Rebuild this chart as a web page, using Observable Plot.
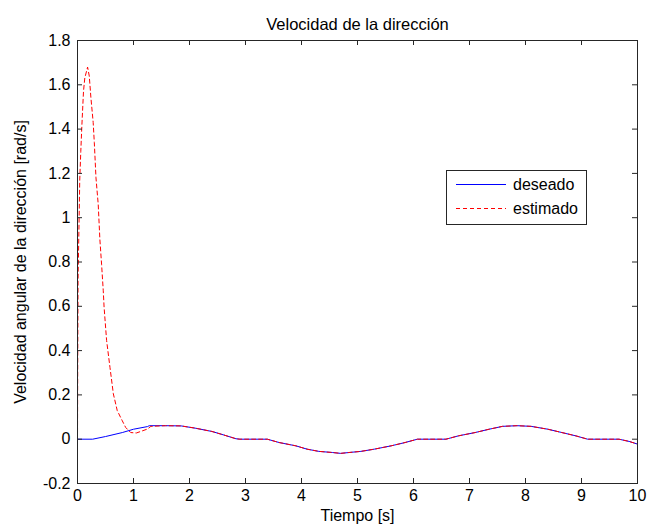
<!DOCTYPE html>
<html>
<head>
<meta charset="utf-8">
<script src="https://cdn.jsdelivr.net/npm/d3@7"></script>
<script src="https://cdn.jsdelivr.net/npm/@observablehq/plot@0.6"></script>
<style>
  body { margin: 0; background: #fff; }
  #wrap { position: relative; width: 647px; height: 530px; font-family: "Liberation Sans", Arial, sans-serif; }
  #legend { position: absolute; left: 446px; top: 170px; }
</style>
</head>
<body>
<div id="wrap"></div>
<script>
// Desired ("deseado") angular velocity samples
const tDes = [0, 0.27, 0.5, 0.8, 1.0, 1.25, 1.28, 1.57, 1.85, 2.1, 2.4, 2.6, 2.83, 2.9, 3.39, 3.6, 3.9, 4.1, 4.31, 4.55, 4.7, 4.85, 5.06, 5.3, 5.6, 5.85, 6.07, 6.58, 6.8, 7.1, 7.35, 7.59, 7.85, 8.1, 8.4, 8.65, 8.9, 9.11, 9.67, 9.85, 10];
const vDes = [0, 0, 0.012, 0.03, 0.045, 0.057, 0.061, 0.061, 0.06, 0.05, 0.035, 0.02, 0.002, 0, 0, -0.015, -0.03, -0.045, -0.055, -0.06, -0.064, -0.06, -0.055, -0.045, -0.03, -0.015, 0, 0, 0.015, 0.03, 0.045, 0.058, 0.061, 0.058, 0.045, 0.03, 0.015, 0, 0, -0.01, -0.022];
// Estimated ("estimado") angular velocity samples
const tEst = [0, 0.004, 0.01, 0.029, 0.04, 0.059, 0.077, 0.107, 0.13, 0.18, 0.21, 0.24, 0.28, 0.30, 0.33, 0.37, 0.40, 0.43, 0.46, 0.475, 0.52, 0.58, 0.64, 0.71, 0.80, 0.86, 0.95, 1.05, 1.13, 1.25, 1.31, 1.57, 1.85, 2.1, 2.4, 2.6, 2.83, 2.9, 3.39, 3.6, 3.9, 4.1, 4.31, 4.55, 4.7, 4.85, 5.06, 5.3, 5.6, 5.85, 6.07, 6.58, 6.8, 7.1, 7.35, 7.59, 7.85, 8.1, 8.4, 8.65, 8.9, 9.11, 9.67, 9.85, 10];
const vEst = [0, 0.35, 0.72, 1.0, 1.17, 1.30, 1.41, 1.57, 1.63, 1.68, 1.64, 1.54, 1.43, 1.34, 1.18, 1.06, 0.90, 0.79, 0.67, 0.595, 0.445, 0.324, 0.205, 0.129, 0.083, 0.053, 0.03, 0.028, 0.035, 0.046, 0.058, 0.061, 0.06, 0.05, 0.035, 0.02, 0.002, 0, 0, -0.015, -0.03, -0.045, -0.055, -0.06, -0.064, -0.06, -0.055, -0.045, -0.03, -0.015, 0, 0, 0.015, 0.03, 0.045, 0.058, 0.061, 0.058, 0.045, 0.03, 0.015, 0, 0, -0.01, -0.022];
const xTicks = [0, 1, 2, 3, 4, 5, 6, 7, 8, 9, 10];
const yTicks = [-0.2, 0, 0.2, 0.4, 0.6, 0.8, 1, 1.2, 1.4, 1.6, 1.8];
const seriesNames = ["deseado", "estimado"];
const titleText = "Velocidad de la dirección";
const xLabel = "Tiempo [s]";
const yLabel = "Velocidad angular de la dirección [rad/s]";

const des = tDes.map((t, i) => ({t, v: vDes[i]}));
const est = tEst.map((t, i) => ({t, v: vEst[i]}));

const W = 647, H = 530, mL = 77, mR = 10, mT = 40, mB = 47;
const innerW = W - mL - mR, innerH = H - mT - mB;
const tick = 5;
const axisColor = "#262626";
const fmt = d => String(+d.toFixed(1));

const chart = Plot.plot({
  width: W, height: H,
  marginLeft: mL, marginRight: mR, marginTop: mT, marginBottom: mB,
  style: {fontFamily: "'Liberation Sans', Arial, sans-serif", fontSize: "16px", color: "black", background: "white"},
  x: {domain: [0, 10], ticks: xTicks},
  y: {domain: [-0.2, 1.8], ticks: yTicks},
  marks: [
    Plot.line(des, {x: "t", y: "v", stroke: "#0000ff", strokeWidth: 1}),
    Plot.line(est, {x: "t", y: "v", stroke: "#ff0000", strokeWidth: 1, strokeDasharray: "4,3"}),
    Plot.ruleX(xTicks, {x: d => d, insetTop: innerH - tick, stroke: axisColor}),
    Plot.ruleX(xTicks, {x: d => d, insetBottom: innerH - tick, stroke: axisColor}),
    Plot.ruleY(yTicks, {y: d => d, insetRight: innerW - tick, stroke: axisColor}),
    Plot.ruleY(yTicks, {y: d => d, insetLeft: innerW - tick, stroke: axisColor}),
    Plot.frame({stroke: axisColor}),
    Plot.axisX(xTicks, {tickSize: 0, tickPadding: 6, tickFormat: fmt, label: null, fill: "black"}),
    Plot.axisY(yTicks, {tickSize: 0, tickPadding: 7, tickFormat: fmt, label: null, fill: "black"}),
    Plot.text([titleText], {frameAnchor: "top", dy: -22, fontSize: 16.5, fill: "black"}),
    Plot.text([xLabel], {frameAnchor: "bottom", dy: 37, fontSize: 16, fill: "black"}),
    Plot.text([yLabel], {frameAnchor: "left", textAnchor: "middle", dx: -57, rotate: -90, fontSize: 16, fill: "black"})
  ]
});

const wrap = document.getElementById("wrap");
wrap.appendChild(chart);

// Legend box inside the axes
const colors = ["#0000ff", "#ff0000"];
const dashes = [null, "4,3"];
const leg = d3.select(wrap).append("svg").attr("id", "legend")
  .attr("width", 142).attr("height", 56);
leg.append("rect").attr("x", 0.5).attr("y", 0.5).attr("width", 140).attr("height", 54)
  .attr("fill", "white").attr("stroke", axisColor);
seriesNames.forEach((name, i) => {
  const y = 14.5 + i * 24;
  leg.append("line").attr("x1", 10).attr("x2", 60).attr("y1", y).attr("y2", y)
    .attr("stroke", colors[i]).attr("stroke-width", 1)
    .attr("stroke-dasharray", dashes[i]);
  leg.append("text").attr("x", 67).attr("y", y).attr("dy", "0.35em")
    .attr("font-family", "'Liberation Sans', Arial, sans-serif").attr("font-size", 16)
    .attr("fill", "black").text(name);
});
</script>
</body>
</html>
